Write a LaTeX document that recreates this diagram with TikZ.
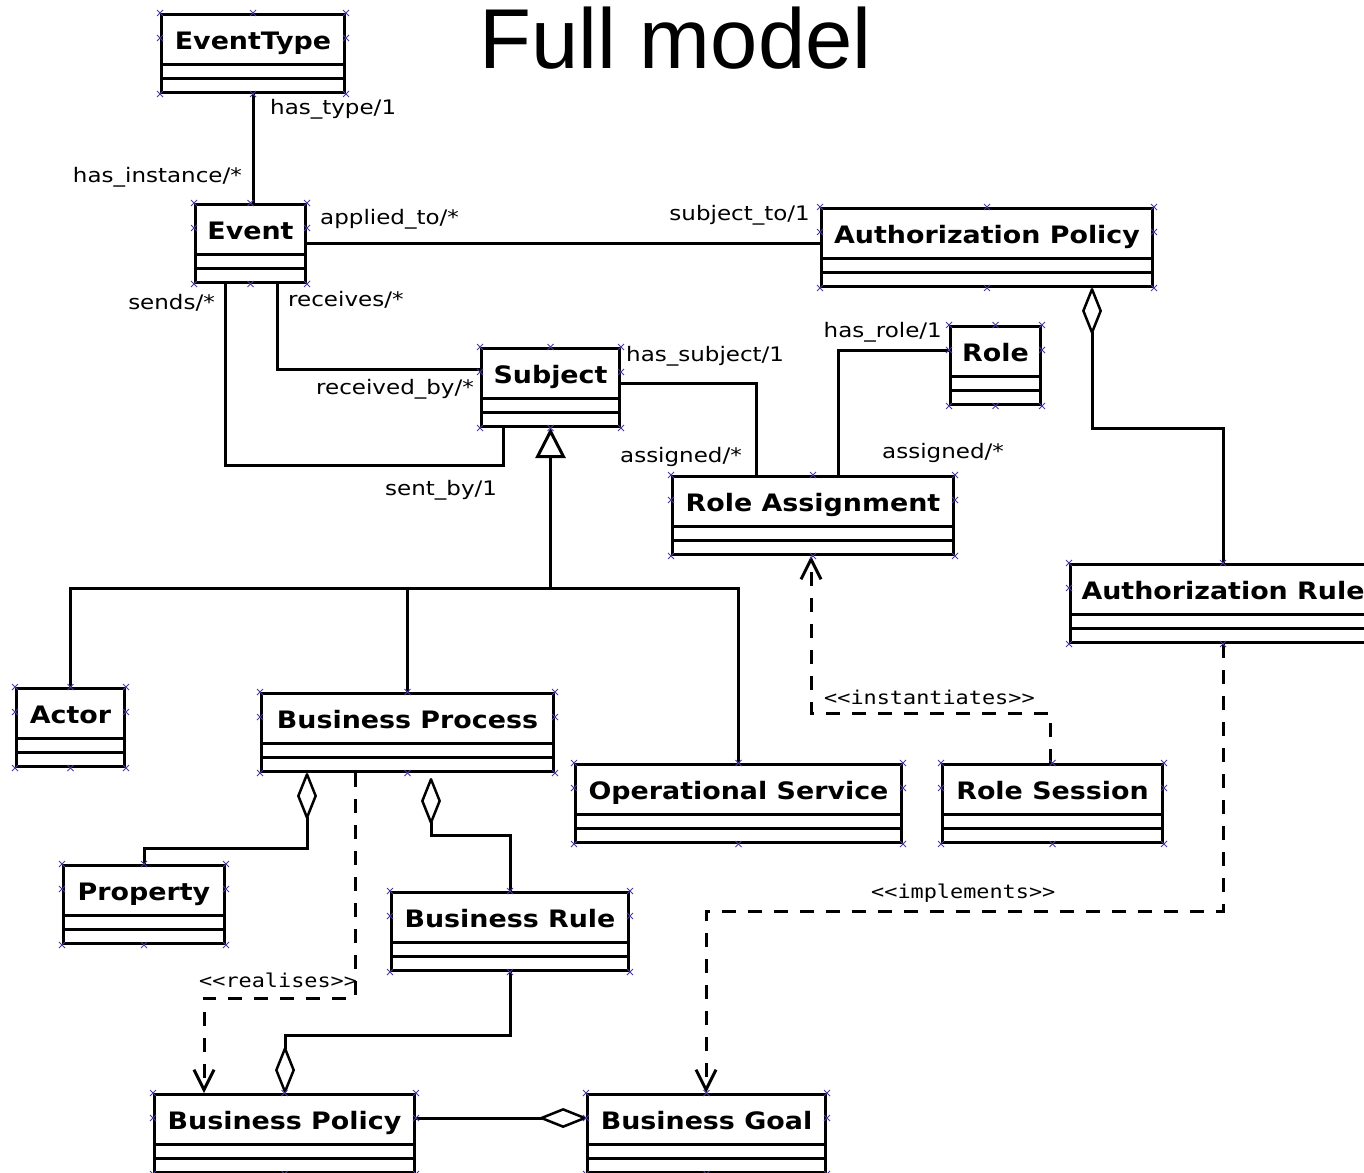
\documentclass[tikz,border=0pt]{standalone}
\usepackage{fontspec}
\usetikzlibrary{arrows.meta}
\newfontfamily\clsfont[FakeStretch=1.12]{DejaVu Sans}
\newfontfamily\lblfont[FakeStretch=1.15]{DejaVu Sans}
\newfontfamily\stfont[FakeStretch=1.15]{DejaVu Sans Mono}
\newfontfamily\titlefont{Liberation Sans}
\definecolor{cpcol}{RGB}{70,60,160}
\begin{document}
\begin{tikzpicture}[x=1pt,y=-1pt,
  cls/.style={draw, line width=3pt, fill=white, inner sep=0pt, anchor=north west,
    minimum height=78pt, text height=35pt, text depth=43pt,
    font=\clsfont\bfseries\fontsize{24}{28}\selectfont,
    path picture={\draw[line width=3pt]
      ([yshift=14pt]path picture bounding box.south west) -- ([yshift=14pt]path picture bounding box.south east)
      ([yshift=28pt]path picture bounding box.south west) -- ([yshift=28pt]path picture bounding box.south east);}},
  assoc/.style={line width=3pt},
  dep/.style={line width=3pt, dash pattern=on 14pt off 12pt,
    -{Straight Barb[length=20pt,width=20pt,line width=3pt]}},
  aggstart/.style={line width=3pt, {Diamond[open,round,length=50pt,width=20pt,line width=2.5pt]}-},
  aggend/.style={line width=3pt, -{Diamond[open,round,length=50pt,width=20pt,line width=2.5pt]}},
  gen/.style={line width=3pt, {Triangle[open,length=30pt,width=30pt,line width=3pt]}-},
  lbl/.style={inner sep=0pt, font=\lblfont\fontsize{20}{24}\selectfont},
  stereo/.style={inner sep=0pt, font=\stfont\fontsize{19}{22}\selectfont},
  cpm/.style={draw=cpcol, line width=0.8pt}
]
\useasboundingbox (0,0) rectangle (1364,1172);
\fill[white] (0,0) rectangle (1364,1172);
\clip (0,0) rectangle (1364,1172);

% title
\node[font=\titlefont\fontsize{85}{90}\selectfont, anchor=base, inner sep=0pt] (title) at (675.5,69) {Full model};

% classes
\node[cls, minimum width=183pt] (et) at (160,13) {EventType};
\node[cls, minimum width=110pt] (ev) at (194,203) {Event};
\node[cls, minimum width=331pt] (ap) at (820,207) {Authorization Policy};
\node[cls, minimum width=138pt] (sub) at (480,347) {Subject};
\node[cls, minimum width=90pt] (role) at (949,325) {Role};
\node[cls, minimum width=281pt] (ra) at (671,475) {Role Assignment};
\node[cls, minimum width=305pt] (ar) at (1069,563) {Authorization Rule};
\node[cls, minimum width=108pt] (actor) at (15,687) {Actor};
\node[cls, minimum width=292pt] (bp) at (260,692) {Business Process};
\node[cls, minimum width=326pt] (os) at (574,763) {Operational Service};
\node[cls, minimum width=220pt] (rs) at (941,763) {Role Session};
\node[cls, minimum width=161pt] (prop) at (62,864) {Property};
\node[cls, minimum width=237pt] (br) at (390,891) {Business Rule};
\node[cls, minimum width=260pt] (bpol) at (153,1093) {Business Policy};
\node[cls, minimum width=238pt] (bg) at (586,1093) {Business Goal};

% associations
\draw[assoc] (et.south) -- (et.south |- ev.north);
\draw[assoc] (ev.east) -- (ev.east -| ap.west);
\draw[assoc] ([xshift=83pt]ev.south west) |- ([yshift=-22pt]sub.north west);
\draw[assoc] ([xshift=31pt]ev.south west) -- ++(0,181) -| ([xshift=23pt]sub.south west);
\draw[assoc] ([yshift=-36pt]sub.north east) -| ([xshift=85pt]ra.north west);
\draw[assoc] ([yshift=-25pt]role.north west) -| ([xshift=167pt]ra.north west);

% generalisation of Subject
\coordinate (bus) at (0,588);
\draw[gen] (sub.south) -- (sub.south |- bus);
\draw[assoc] (actor.north) |- (os.north |- bus) -- (os.north);
\draw[assoc] (bp.north) -- (bp.north |- bus);

% aggregations
\draw[aggstart] ([xshift=272pt]ap.south west) -- ++(0,140) -| (ar.north);
\draw[aggstart] ([xshift=47pt]bp.south west) -- ++(0,75) -| (prop.north);
\draw[aggstart] ([xshift=171pt,yshift=-5pt]bp.south west) -- ++(0,57) -| (br.north);
\draw[aggend] (br.south) -- ++(0,63) -| ([xshift=132pt]bpol.north west);
\draw[aggend] ([yshift=-25pt]bpol.north east) -- ([yshift=-25pt]bg.north west);

% dependencies
\draw[dep] ([xshift=95pt]bp.south west) -- ++(0,225) -| ([xshift=51pt]bpol.north west);
\draw[dep] ([xshift=109pt]rs.north west) -- ++(0,-50) -| ([xshift=140pt]ra.south west);
\draw[dep] (ar.south) -- ++(0,267) -| ([xshift=120pt]bg.north west);

% role labels
\node[lbl, anchor=west] (l1) at (270,109) {has\_type/1};
\node[lbl, anchor=east] (l2) at (242,177) {has\_instance/*};
\node[lbl, anchor=west] (l3) at (320,219) {applied\_to/*};
\node[lbl, anchor=east] (l4) at (810,215) {subject\_to/1};
\node[lbl, anchor=east] (l5) at (215,303) {sends/*};
\node[lbl, anchor=west] (l6) at (288,300) {receives/*};
\node[lbl, anchor=east] (l7) at (474,389) {received\_by/*};
\node[lbl, anchor=west] (l8) at (385,490) {sent\_by/1};
\node[lbl, anchor=west] (l9) at (626,356) {has\_subject/1};
\node[lbl, anchor=east] (l10) at (742,457) {assigned/*};
\node[lbl, anchor=east] (l11) at (942,332) {has\_role/1};
\node[lbl, anchor=west] (l12) at (882,453) {assigned/*};

% stereotypes
\node[stereo, anchor=west] (s1) at (824,697) {<{}<instantiates>{}>};
\node[stereo, anchor=west] (s2) at (871,893) {<{}<implements>{}>};
\node[stereo, anchor=west] (s3) at (199,980) {<{}<realises>{}>};

% connection point marks
\foreach \n in {et,ev,ap,sub,role,ra,ar,actor,bp,os,rs,prop,br,bpol,bg}{
  \foreach \a/\s in {north west/0,north/0,north east/0,south west/0,south/0,south east/0,north west/-25,north east/-25}{
    \path[cpm] ([yshift=\s]\n.\a) +(-3,-3) -- +(3,3) +(-3,3) -- +(3,-3);
  }
}
\end{tikzpicture}
\end{document}
